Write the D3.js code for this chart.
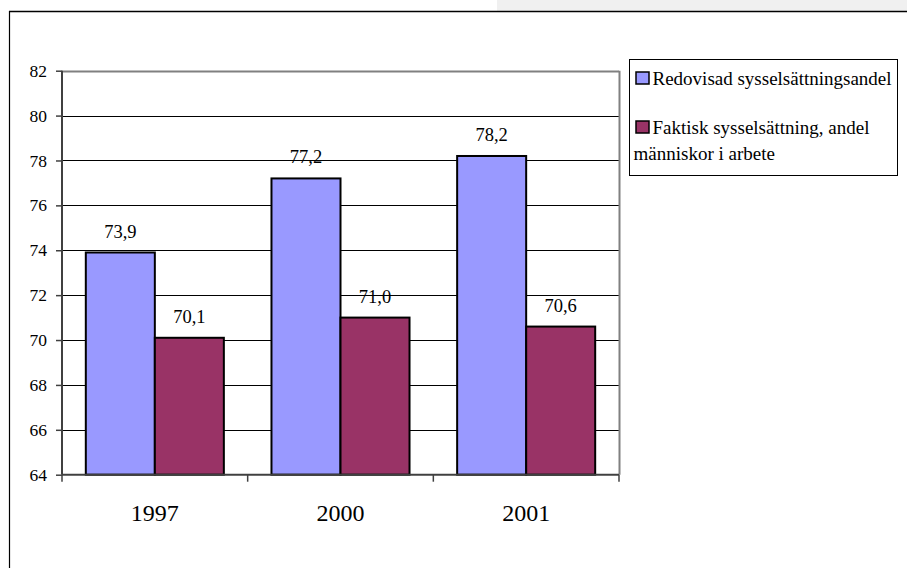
<!DOCTYPE html>
<html><head><meta charset="utf-8">
<script src="https://cdn.jsdelivr.net/npm/d3@7"></script>
<style>body{margin:0;background:#fff}svg{display:block}</style>
</head><body><svg id="c" width="907" height="568"></svg>
<script>
const categories = ["1997","2000","2001"];
const seriesNames = ["Redovisad sysselsättningsandel","Faktisk sysselsättning, andel människor i arbete"];
const redovisad = [73.9, 77.2, 78.2];
const faktisk = [70.1, 71.0, 70.6];
const yTicks = [64,66,68,70,72,74,76,78,80,82];
const colors = ["#9999FF","#993366"];
const FF = "'Liberation Serif', 'Times New Roman', serif";

const svg = d3.select("#c").style("font-family",FF);
svg.append("rect").attr("x",497).attr("y",0).attr("width",410).attr("height",11).attr("fill","#f0f0f0");
svg.append("line").attr("x1",9).attr("x2",907).attr("y1",11.5).attr("y2",11.5).attr("stroke","#000").attr("stroke-width",1.5);
svg.append("line").attr("x1",9.5).attr("x2",9.5).attr("y1",11).attr("y2",568).attr("stroke","#000").attr("stroke-width",1.2);

const L=62, R=619, T=70.7, B=474.7;
const y = d3.scaleLinear().domain([64,82]).range([B,T]);
const x0 = d3.scaleBand().domain(categories).range([L,R]).paddingInner(0).paddingOuter(0);
const x1 = d3.scaleBand().domain([0,1]).range([0,x0.bandwidth()]).paddingInner(0).paddingOuter(0.345);

svg.append("g").selectAll("line").data(yTicks.filter(v=>v>64&&v<82)).join("line")
  .attr("x1",L).attr("x2",R).attr("y1",d=>Math.round(y(d))+0.5).attr("y2",d=>Math.round(y(d))+0.5)
  .attr("stroke","#000").attr("stroke-width",1);
svg.append("line").attr("x1",L).attr("x2",R).attr("y1",Math.round(T)+0.5).attr("y2",Math.round(T)+0.5).attr("stroke","#808080").attr("stroke-width",2);
svg.append("line").attr("x1",R+0.5).attr("x2",R+0.5).attr("y1",T).attr("y2",B).attr("stroke","#808080").attr("stroke-width",2);

const data = categories.map((c,i)=>({c, vals:[redovisad[i], faktisk[i]]}));
const g = svg.append("g").selectAll("g").data(data).join("g").attr("transform",d=>`translate(${x0(d.c)},0)`);
g.selectAll("rect").data(d=>d.vals.map((v,k)=>({v,k}))).join("rect")
  .attr("x",d=>x1(d.k)).attr("width",x1.bandwidth())
  .attr("y",d=>y(d.v)).attr("height",d=>B-y(d.v))
  .attr("fill",d=>colors[d.k]).attr("stroke","#000").attr("stroke-width",2);
g.selectAll("text").data(d=>d.vals.map((v,k)=>({v,k}))).join("text")
  .attr("x",d=>x1(d.k)+x1.bandwidth()/2).attr("y",d=>y(d.v)-15)
  .attr("text-anchor","middle").style("font-family",FF).style("font-size","18.5px")
  .text(d=>d3.format(".1f")(d.v).replace(".",","));

const yAxis = d3.axisLeft(y).tickValues(yTicks).tickSize(6).tickPadding(9);
const ya = svg.append("g").attr("transform",`translate(${L},0)`).call(yAxis);
ya.attr("font-family",null).attr("font-size",null);
ya.select(".domain").attr("stroke","#404040").attr("stroke-width",2).attr("d",`M0,${T}V${B}`);
ya.selectAll(".tick line").attr("stroke","#404040").attr("stroke-width",1.5);
ya.selectAll("text").style("font-family",FF).style("font-size","17.5px").attr("fill","#000");

const xa = svg.append("g").attr("transform",`translate(0,${B})`);
xa.append("line").attr("x1",L).attr("x2",R).attr("y1",0).attr("y2",0).attr("stroke","#404040").attr("stroke-width",2);
const bounds = [L].concat(categories.map(c=>x0(c)+x0.bandwidth()));
xa.selectAll("line.t").data(bounds).join("line").attr("class","t")
  .attr("x1",d=>d).attr("x2",d=>d).attr("y1",0).attr("y2",7).attr("stroke","#404040").attr("stroke-width",1.5);
xa.selectAll("text").data(categories).join("text")
  .attr("x",d=>x0(d)+x0.bandwidth()/2).attr("y",46.5).attr("text-anchor","middle")
  .style("font-family",FF).style("font-size","24px").text(d=>d);

const lg = svg.append("g");
lg.append("rect").attr("x",629.5).attr("y",59.5).attr("width",268).attr("height",116).attr("fill","#fff").attr("stroke","#000").attr("stroke-width",1);
const legendRows = [
  {k:0, lines:[seriesNames[0]], y:84.5},
  {k:1, lines:["Faktisk sysselsättning, andel","människor i arbete"], y:133.5}
];
legendRows.forEach(r=>{
  lg.append("rect").attr("x",636).attr("y",r.y-12.5).attr("width",13).attr("height",12).attr("fill",colors[r.k]).attr("stroke","#000").attr("stroke-width",1.5);
  r.lines.forEach((t,i)=>{
    lg.append("text").attr("x",i===0?652.5:633.5).attr("y",r.y+i*26.5)
      .style("font-family",FF).style("font-size","19px").text(t);
  });
});
</script></body></html>
